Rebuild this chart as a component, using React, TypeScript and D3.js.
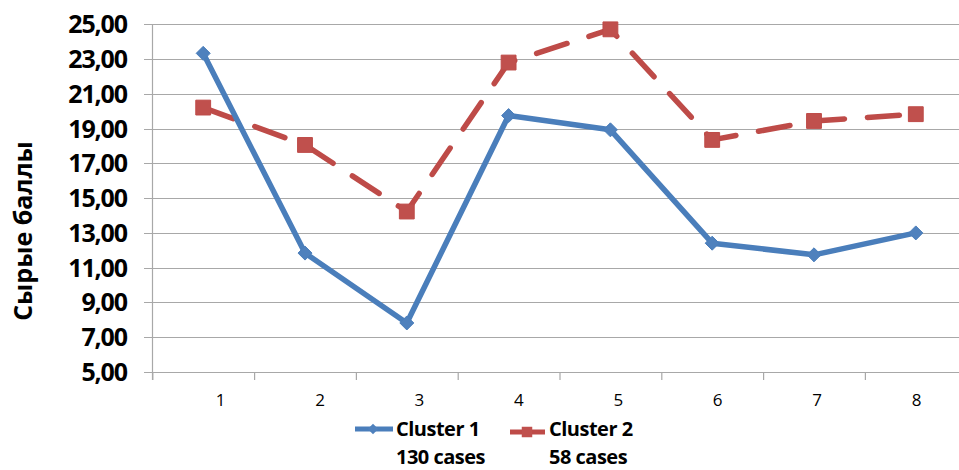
import React from "react";
import * as d3 from "d3";

const categories = ["1", "2", "3", "4", "5", "6", "7", "8"];
const cluster1 = [23.33, 11.84, 7.82, 19.75, 18.93, 12.41, 11.74, 13.0];
const cluster2 = [20.21, 18.06, 14.23, 22.8, 24.71, 18.35, 19.44, 19.83];
const yTicks = [5, 7, 9, 11, 13, 15, 17, 19, 21, 23, 25];
const legendNames = ["Cluster 1", "Cluster 2"];
const legendCases = ["130 cases", "58 cases"];
const yTitle = "Сырые баллы";

const W = 959;
const H = 470;
const FONT = "'Open Sans', sans-serif";

export default function App() {
  const x0 = 152.3;
  const band = 101.8;
  const x = d3
    .scaleBand<string>()
    .domain(categories)
    .range([x0, x0 + band * categories.length])
    .paddingInner(0)
    .paddingOuter(0);
  const xc = (c: string) => (x(c) as number) + x.bandwidth() / 2;
  const xLabel = d3.scalePoint<string>().domain(categories).range([220.6, 916.5]);
  const y = d3.scaleLinear().domain([5, 25]).range([372, 24.3]);

  const line = d3
    .line<number>()
    .x((_, i) => xc(categories[i]))
    .y((d) => y(d));

  const fmt = (v: number) => v.toFixed(2).replace(".", ",");
  const blue = "#4A7EBB";
  const blueM = "#4F81BD";
  const red = "#BE4B48";
  const redM = "#C0504D";
  const grid = "#A8A8A8";

  const diamond = d3.symbol().type(d3.symbolDiamond2).size(125)();
  const square = d3.symbol().type(d3.symbolSquare).size(220)();

  return (
    <svg
      width={W}
      height={H}
      style={{ position: "absolute", left: 0, top: 0, background: "#fff" }}
    >
      <rect x={0} y={0} width={W} height={H} fill="#fff" />
      {/* gridlines */}
      {yTicks.map((t) => (
        <line
          key={t}
          x1={144}
          x2={W}
          y1={Math.round(y(t)) + 0.5}
          y2={Math.round(y(t)) + 0.5}
          stroke={grid}
          strokeWidth={1.2}
        />
      ))}
      {/* y axis */}
      <line x1={152.5} x2={152.5} y1={y(25)} y2={380} stroke={grid} strokeWidth={1.2} />
      {/* x ticks */}
      {categories.map((c) => (
        <line
          key={c}
          x1={(x(c) as number) + 0.5}
          x2={(x(c) as number) + 0.5}
          y1={y(5)}
          y2={380}
          stroke={grid}
          strokeWidth={1.2}
        />
      ))}
      {/* y tick labels */}
      {yTicks.map((t) => (
        <text
          key={t}
          x={127}
          y={y(t)}
          dy="0.36em"
          textAnchor="end"
          fontFamily={FONT}
          fontWeight={700}
          fontSize={25}
          letterSpacing={-1.1}
          fill="#000"
        >
          {fmt(t)}
        </text>
      ))}
      {/* x labels */}
      {categories.map((c) => (
        <text
          key={c}
          x={xLabel(c)}
          y={400}
          dy="0.36em"
          textAnchor="middle"
          fontFamily={FONT}
          fontSize={17}
          fill="#000"
        >
          {c}
        </text>
      ))}
      {/* y title */}
      <text
        transform={`translate(32,231) rotate(-90)`}
        textAnchor="middle"
        fontFamily={FONT}
        fontWeight={700}
        fontSize={25}
        fill="#000"
      >
        {yTitle}
      </text>
      {/* series 2 (red dashed) */}
      <path
        d={line(cluster2) as string}
        fill="none"
        stroke={red}
        strokeWidth={5.5}
        strokeDasharray="32 23"
        strokeLinecap="round"
        strokeLinejoin="round"
      />
      {cluster2.map((v, i) => (
        <path
          key={i}
          d={square as string}
          transform={`translate(${xc(categories[i])},${y(v)})`}
          fill={redM}
          stroke={red}
          strokeWidth={1}
        />
      ))}
      {/* series 1 (blue) */}
      <path
        d={line(cluster1) as string}
        fill="none"
        stroke={blue}
        strokeWidth={5.5}
        strokeLinejoin="round"
        strokeLinecap="round"
      />
      {cluster1.map((v, i) => (
        <path
          key={i}
          d={diamond as string}
          transform={`translate(${xc(categories[i])},${y(v)})`}
          fill={blueM}
          stroke={blue}
          strokeWidth={1}
        />
      ))}
      {/* legend */}
      <g>
        <line x1={355} x2={393} y1={429} y2={429} stroke={blue} strokeWidth={5} />
        <path d={d3.symbol().type(d3.symbolDiamond2).size(70)() as string} transform="translate(373,429)" fill={blueM} />
        <text fontFamily={FONT} fontWeight={700} fontSize={20} letterSpacing={-0.5} fill="#000">
          <tspan x={396} y={436}>{legendNames[0]}</tspan>
          <tspan x={396} y={463.5}>{legendCases[0]}</tspan>
        </text>
        <line x1={510} x2={545} y1={432} y2={432} stroke={red} strokeWidth={5} />
        <path d={d3.symbol().type(d3.symbolSquare).size(110)() as string} transform="translate(527,432)" fill={redM} />
        <text fontFamily={FONT} fontWeight={700} fontSize={20} letterSpacing={-0.5} fill="#000">
          <tspan x={549} y={436}>{legendNames[1]}</tspan>
          <tspan x={549} y={463.5}>{legendCases[1]}</tspan>
        </text>
      </g>
    </svg>
  );
}
